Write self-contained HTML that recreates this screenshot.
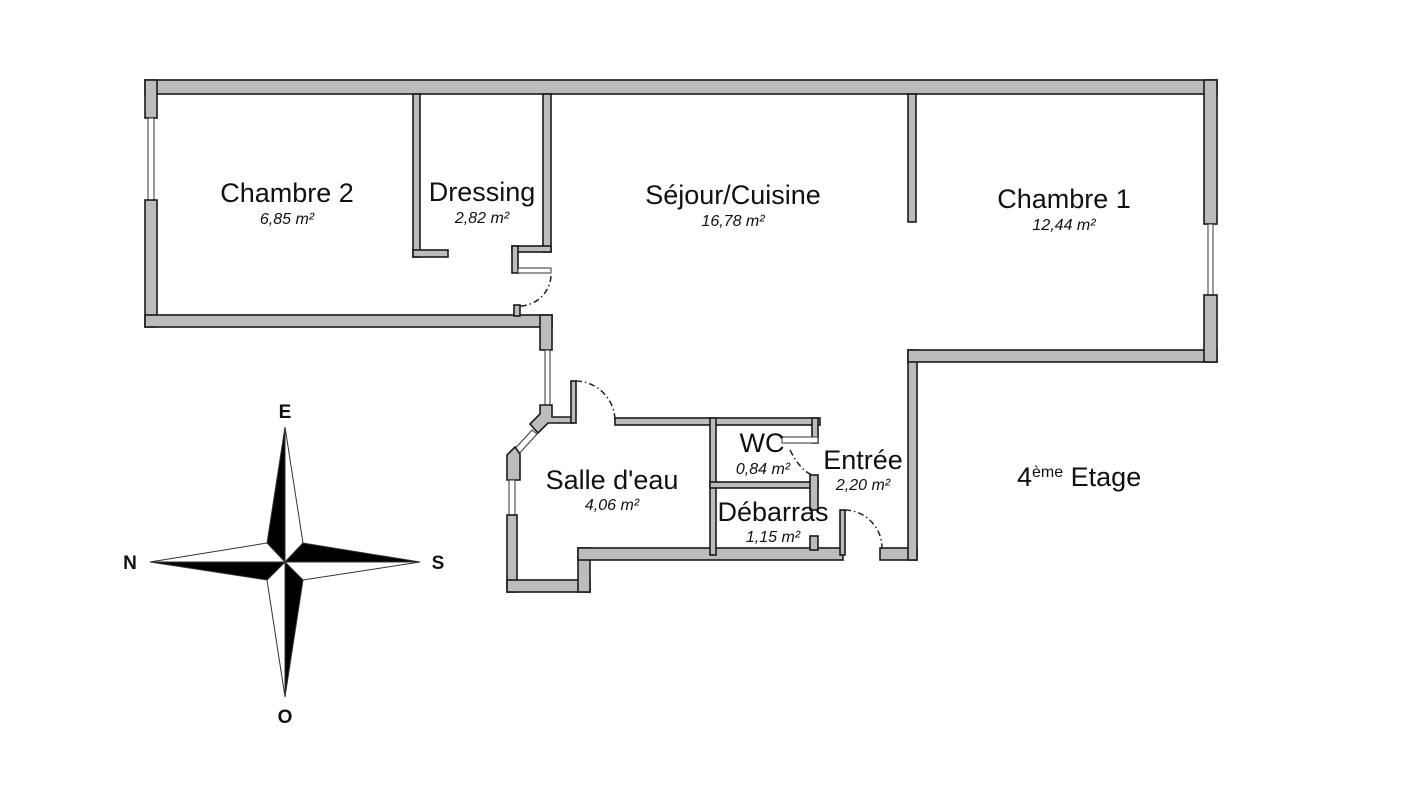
<!DOCTYPE html>
<html><head><meta charset="utf-8"><style>
html,body{margin:0;padding:0;background:#fff;}
svg{display:block;}
text{font-family:"Liberation Sans",sans-serif;fill:#111;}
.w{fill:#bcbcbc;stroke:#1a1a1a;stroke-width:1.6;}
.t{fill:#fff;stroke:#333;stroke-width:1;}
.d{fill:none;stroke:#222;stroke-width:1.5;stroke-dasharray:6 3 1.5 3;}
.n{font-size:27px;text-anchor:middle;}
.a{font-size:16px;font-style:italic;text-anchor:middle;}
.c{font-size:19px;font-weight:bold;text-anchor:middle;}
</style></head><body>
<svg width="1419" height="800" viewBox="0 0 1419 800" xmlns="http://www.w3.org/2000/svg">
<rect class="w" x="145" y="80" width="1072" height="14"/>
<rect class="w" x="145" y="80" width="12" height="38"/>
<rect class="t" x="148" y="118" width="6" height="82"/>
<rect class="w" x="145" y="200" width="12" height="127"/>
<rect class="w" x="145" y="315" width="407" height="12"/>
<rect class="w" x="540" y="315" width="12" height="35"/>
<rect class="w" x="413" y="94" width="7" height="163"/>
<rect class="w" x="413" y="250" width="35" height="7"/>
<rect class="w" x="543" y="94" width="8" height="158"/>
<rect class="w" x="512" y="246" width="39" height="6"/>
<rect class="w" x="512" y="246" width="6" height="27"/>
<rect class="t" x="518" y="268" width="33" height="5"/>
<path class="d" d="M551 276 A32 32 0 0 1 520 306"/>
<rect class="w" x="514" y="305" width="6" height="11"/>
<rect class="t" x="545" y="350" width="5" height="55"/>
<polygon class="w" points="540,405 552,405 552,417 573,417 573,423 548,423 538,433 530,424 540,414"/>
<polygon class="t" points="532,430 537,434 517,456 512,452"/>
<polygon class="w" points="507,455 515,447 520,454 520,480 507,480"/>
<rect class="t" x="509" y="480" width="6" height="35"/>
<rect class="w" x="507" y="515" width="10" height="77"/>
<rect class="w" x="507" y="580" width="83" height="12"/>
<rect class="w" x="578" y="548" width="12" height="44"/>
<rect class="w" x="578" y="548" width="265" height="12"/>
<rect class="w" x="571" y="381" width="5" height="42"/>
<path class="d" d="M576 381 A40 40 0 0 1 615 420"/>
<rect class="w" x="615" y="418" width="205" height="7"/>
<rect class="w" x="710" y="418" width="6" height="137"/>
<rect class="w" x="812" y="418" width="6" height="25"/>
<rect class="t" x="782" y="437" width="36" height="6"/>
<path class="d" d="M790 450 Q800 470 812 475"/>
<rect class="w" x="710" y="482" width="108" height="6"/>
<rect class="w" x="810" y="475" width="8" height="35"/>
<rect class="w" x="810" y="536" width="8" height="14"/>
<rect class="w" x="840" y="510" width="5" height="45"/>
<path class="d" d="M845 510 A38 38 0 0 1 882 548"/>
<rect class="w" x="880" y="548" width="37" height="12"/>
<rect class="w" x="908" y="350" width="9" height="210"/>
<rect class="w" x="908" y="350" width="309" height="12"/>
<rect class="w" x="1204" y="80" width="13" height="144"/>
<rect class="t" x="1208" y="224" width="5" height="71"/>
<rect class="w" x="1204" y="295" width="13" height="67"/>
<rect class="w" x="908" y="94" width="8" height="128"/>
<text class="n" x="287" y="202">Chambre 2</text>
<text class="a" x="287" y="224">6,85 m²</text>
<text class="n" x="482" y="201">Dressing</text>
<text class="a" x="482" y="223">2,82 m²</text>
<text class="n" x="733" y="204">Séjour/Cuisine</text>
<text class="a" x="733" y="226">16,78 m²</text>
<text class="n" x="1064" y="208">Chambre 1</text>
<text class="a" x="1064" y="230">12,44 m²</text>
<text class="n" x="612" y="489">Salle d'eau</text>
<text class="a" x="612" y="510">4,06 m²</text>
<text class="n" x="762" y="452">WC</text>
<text class="a" x="763" y="474">0,84 m²</text>
<text class="n" x="863" y="469">Entrée</text>
<text class="a" x="863" y="490">2,20 m²</text>
<text class="n" x="773" y="521">Débarras</text>
<text class="a" x="773" y="542">1,15 m²</text>
<text x="1017" y="486" style="font-size:27px">4<tspan dy="-9" font-size="16">ème</tspan><tspan dy="9"> Etage</tspan></text>
<g stroke="#333" stroke-width="1">
<polygon points="285,427 267,543 285,562" fill="#000"/>
<polygon points="285,427 303,543 285,562" fill="#fff"/>
<polygon points="420,562 303,543 285,562" fill="#000"/>
<polygon points="420,562 303,580 285,562" fill="#fff"/>
<polygon points="285,697 303,580 285,562" fill="#000"/>
<polygon points="285,697 267,580 285,562" fill="#fff"/>
<polygon points="150,562 267,580 285,562" fill="#000"/>
<polygon points="150,562 267,543 285,562" fill="#fff"/>
</g>
<text class="c" x="285" y="418">E</text>
<text class="c" x="285" y="723">O</text>
<text class="c" x="130" y="569">N</text>
<text class="c" x="438" y="569">S</text>
</svg>
</body></html>
